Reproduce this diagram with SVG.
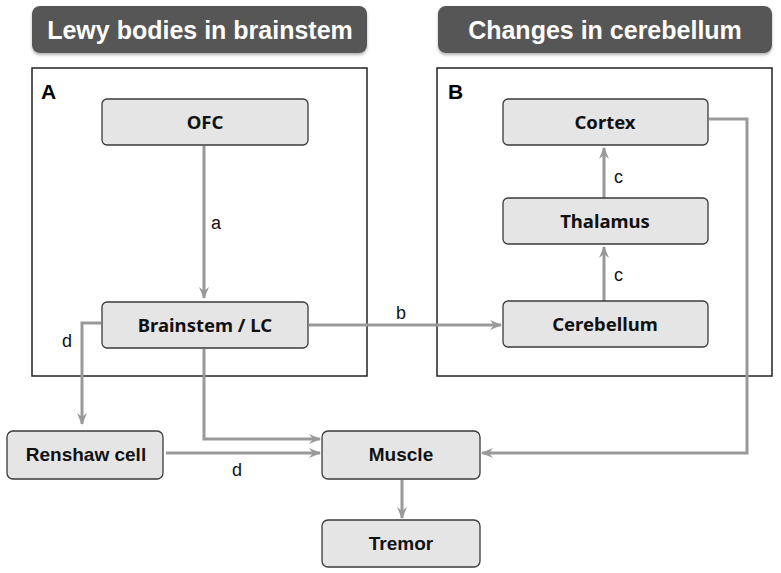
<svg xmlns="http://www.w3.org/2000/svg" width="781" height="573" viewBox="0 0 781 573">
<defs>
<marker id="ah" viewBox="0 0 12 10" refX="11" refY="5" markerWidth="12" markerHeight="10" markerUnits="userSpaceOnUse" orient="auto">
<path d="M0,0 L12,5 L0,10 L4,5 z" fill="#999"/>
</marker>
<filter id="sh" x="-5%" y="-10%" width="110%" height="130%"><feDropShadow dx="0" dy="2" stdDeviation="1.5" flood-color="#000" flood-opacity="0.3"/></filter>
</defs>
<style>
.hdr{fill:#575757}
.hdrt{fill:#fff;font-family:"Liberation Sans",Arial,sans-serif;font-weight:bold;font-size:25px;text-anchor:middle}
.panel{fill:#fff;stroke:#222;stroke-width:1.5}
.plab{font-family:"Liberation Sans",Arial,sans-serif;font-weight:bold;font-size:21px;fill:#000}
.node rect{fill:#e5e5e5;stroke:#3a3a3a;stroke-width:1.3}
.nt{font-family:"Noto Sans","Open Sans",sans-serif;font-weight:bold;font-size:18.5px;fill:#111;text-anchor:middle}
.nt2{font-family:"Liberation Sans",Arial,sans-serif;font-weight:bold;font-size:19px;fill:#111;text-anchor:middle}
.con path{fill:none;stroke:#999;stroke-width:3;marker-end:url(#ah)}
.el{font-family:"Liberation Sans",Arial,sans-serif;font-size:18px;fill:#111}
</style>
<rect width="781" height="573" fill="#fff"/>
<g id="header-a"><rect class="hdr" x="32" y="6" width="335" height="47" rx="8" filter="url(#sh)"/><text class="hdrt" x="200" y="39">Lewy bodies in brainstem</text></g>
<g id="header-b"><rect class="hdr" x="438" y="6" width="334" height="47" rx="8" filter="url(#sh)"/><text class="hdrt" x="605" y="39">Changes in cerebellum</text></g>
<g id="panel-a"><rect class="panel" x="32" y="68" width="335" height="308"/><text class="plab" x="41" y="99">A</text></g>
<g id="panel-b"><rect class="panel" x="437" y="68" width="335" height="308"/><text class="plab" x="448" y="99">B</text></g>
<g id="connectors" class="con">
<path d="M204,146 V298"/>
<path d="M309,325 H501"/>
<path d="M604,301 V247"/>
<path d="M604,198 V148"/>
<path d="M709,119 H747 V453 H482"/>
<path d="M101,323 H82 V424"/>
<path d="M204,349 V439 H320"/>
<path d="M166,453 H320"/>
<path d="M402,480 V518"/>
</g>
<g id="edge-labels">
<text class="el" x="211" y="229">a</text>
<text class="el" x="396" y="319">b</text>
<text class="el" x="614" y="183">c</text>
<text class="el" x="614" y="281">c</text>
<text class="el" x="62" y="347">d</text>
<text class="el" x="232" y="476">d</text>
</g>
<g id="ofc" class="node"><rect x="102" y="99" width="206" height="46" rx="5"/><text class="nt" x="205" y="129">OFC</text></g>
<g id="brainstem" class="node"><rect x="102" y="302" width="206" height="46" rx="5"/><text class="nt" x="205" y="332">Brainstem / LC</text></g>
<g id="cortex" class="node"><rect x="503" y="99" width="205" height="46" rx="5"/><text class="nt" x="605" y="129">Cortex</text></g>
<g id="thalamus" class="node"><rect x="503" y="198" width="205" height="46" rx="5"/><text class="nt" x="605" y="228">Thalamus</text></g>
<g id="cerebellum" class="node"><rect x="503" y="301" width="205" height="46" rx="5"/><text class="nt" x="605" y="331">Cerebellum</text></g>
<g id="renshaw" class="node"><rect x="7" y="431" width="156" height="48" rx="6"/><text class="nt2" x="86" y="461">Renshaw cell</text></g>
<g id="muscle" class="node"><rect x="322" y="431" width="158" height="48" rx="6"/><text class="nt2" x="401" y="461">Muscle</text></g>
<g id="tremor" class="node"><rect x="322" y="520" width="158" height="47" rx="6"/><text class="nt2" x="401" y="550">Tremor</text></g>
</svg>
